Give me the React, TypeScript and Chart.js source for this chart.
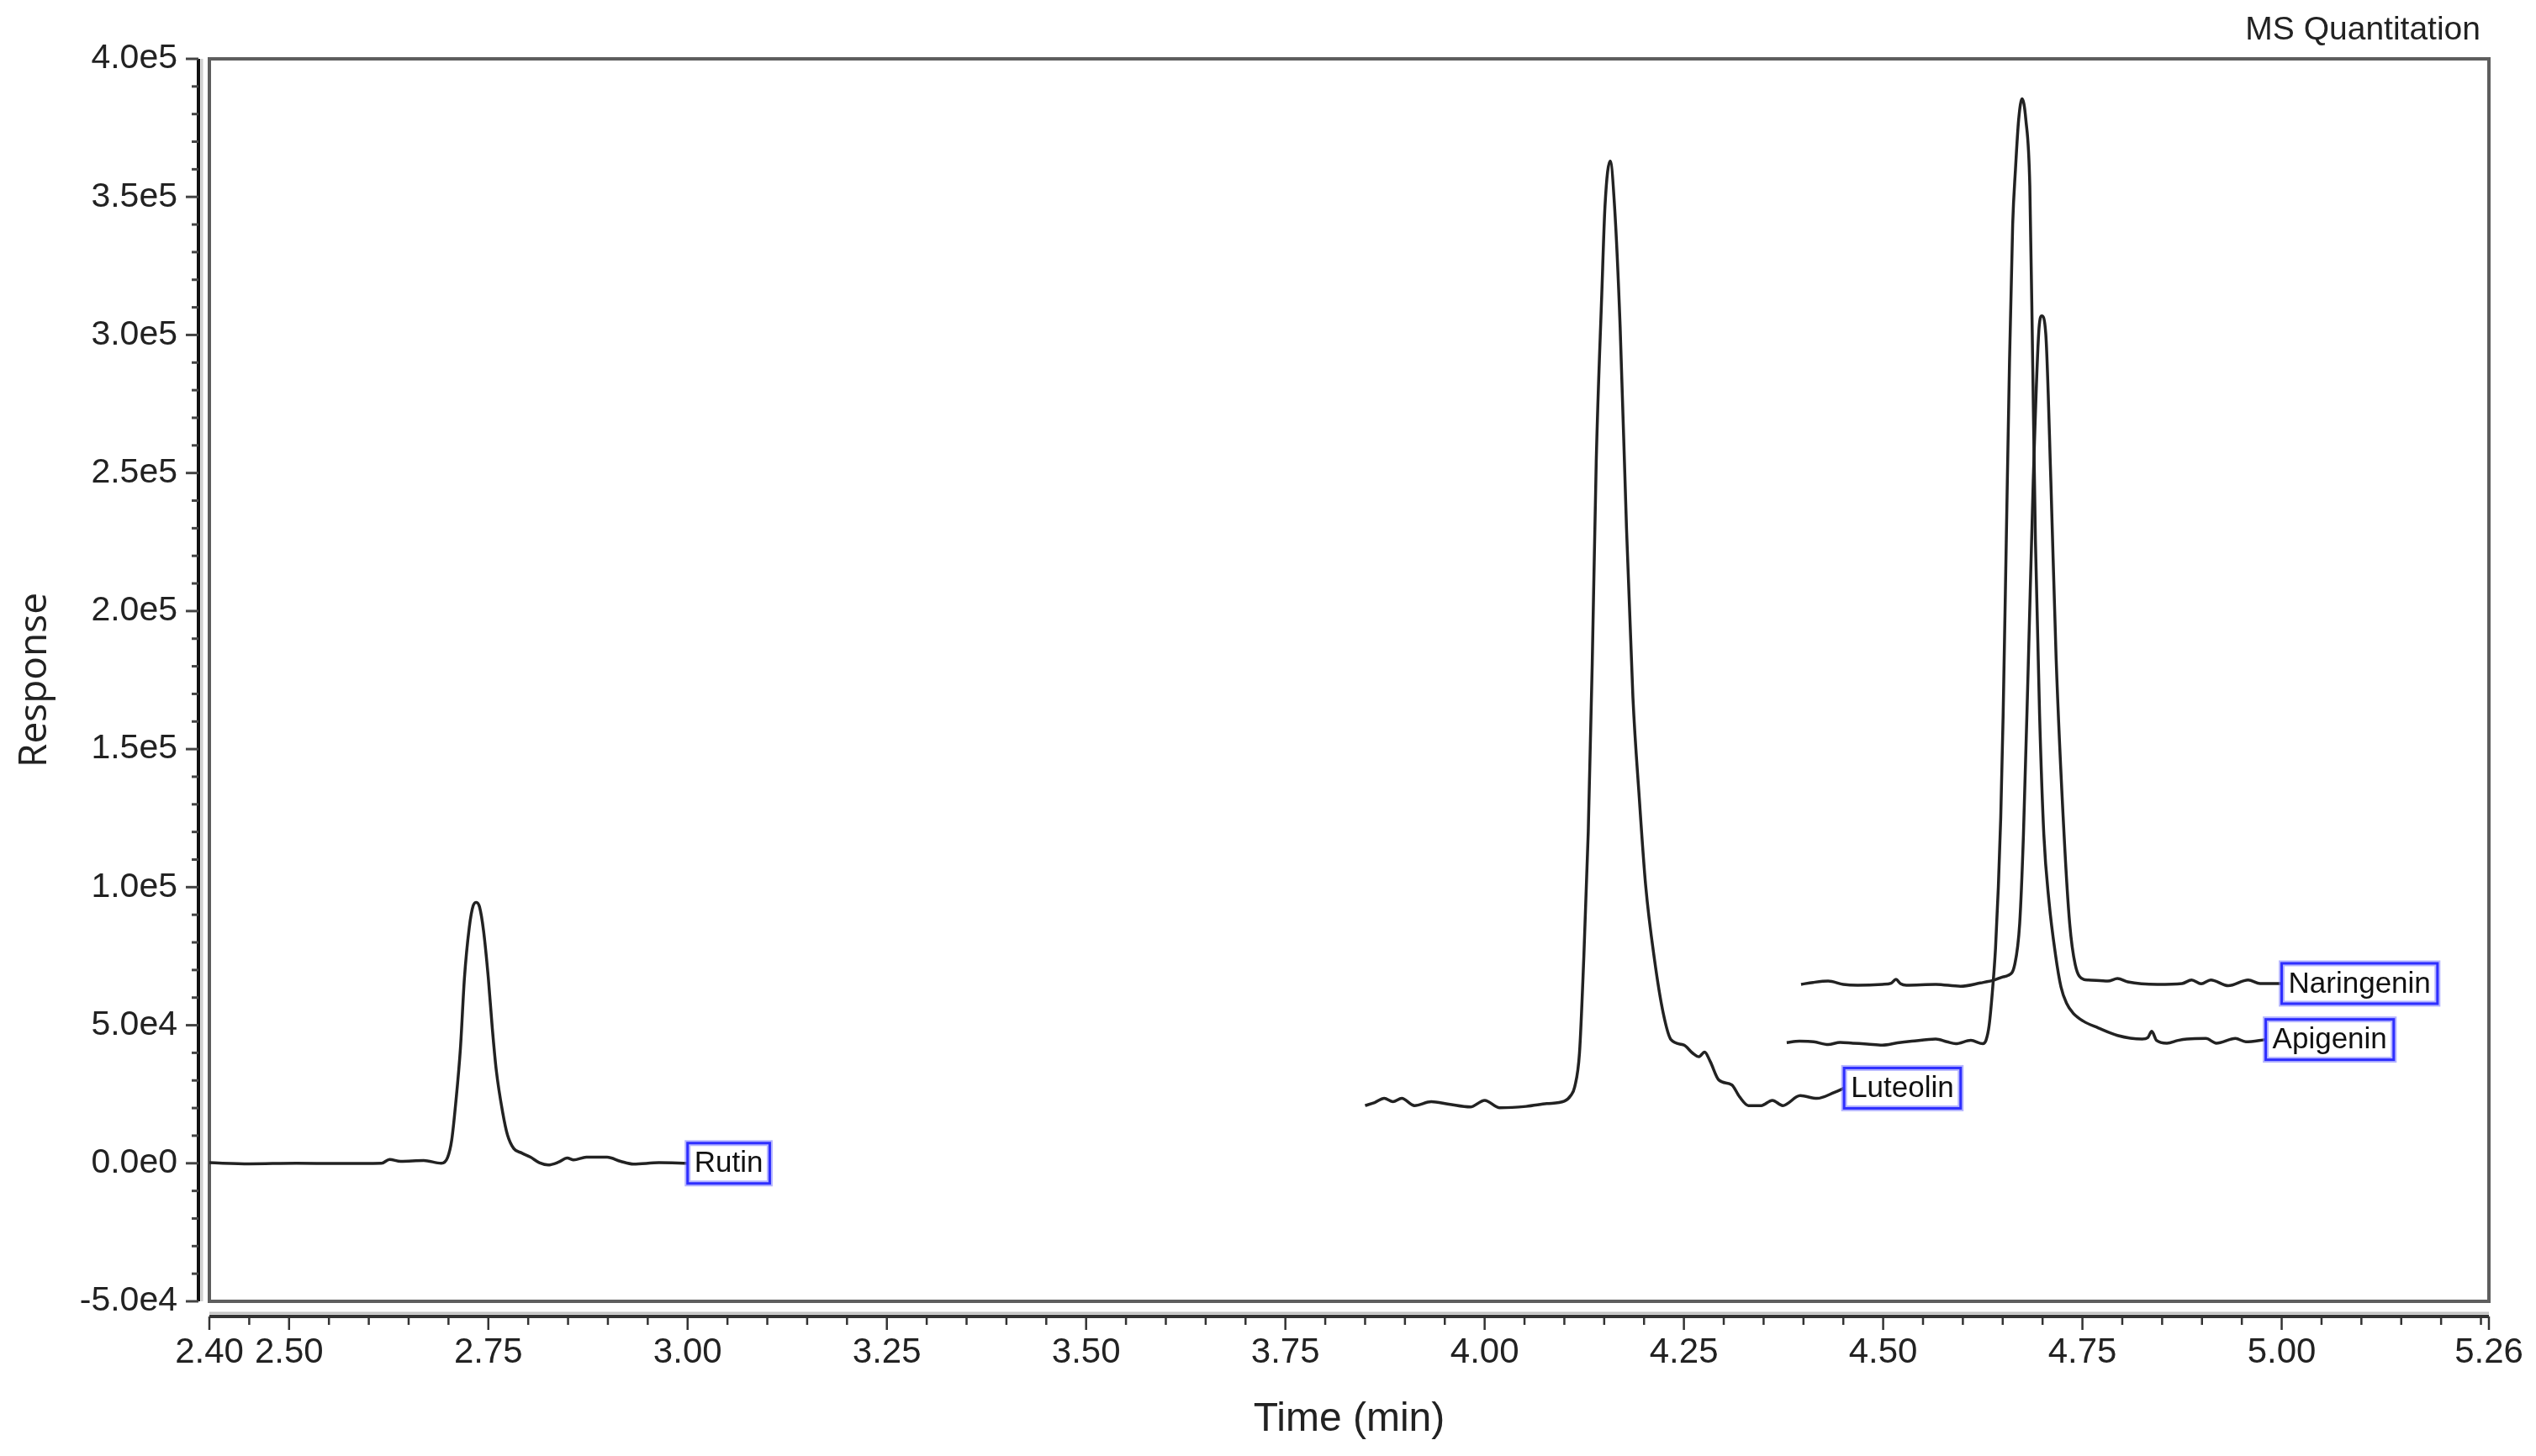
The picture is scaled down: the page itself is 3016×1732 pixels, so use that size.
import React, { useEffect, useRef } from "react";
import { Chart, registerables } from "chart.js";

Chart.register(...registerables);

// ---------- data (time in min, response in counts) ----------
const RUTIN_T = [2.40, 2.45, 2.509, 2.56, 2.616, 2.626, 2.64, 2.669, 2.691, 2.699, 2.704, 2.709, 2.715, 2.72, 2.726, 2.731, 2.735, 2.739, 2.744, 2.75, 2.755, 2.76, 2.768, 2.774, 2.782, 2.792, 2.803, 2.814, 2.825, 2.838, 2.849, 2.857, 2.873, 2.899, 2.916, 2.932, 2.964, 3.00];
const RUTIN_R = [200, -200, 0, -100, 0, 1400, 700, 1000, 0, 2200, 8300, 21500, 41700, 67000, 85200, 93300, 94500, 92800, 84200, 67000, 48800, 33600, 18400, 10300, 5300, 3700, 2200, 200, -600, 400, 1900, 1200, 2200, 2200, 700, -300, 200, 0];

const LUTEOLIN_T = [3.85, 3.862, 3.874, 3.885, 3.896, 3.912, 3.933, 3.955, 3.982, 4.0, 4.019, 4.052, 4.078, 4.1, 4.108, 4.113, 4.119, 4.124, 4.13, 4.135, 4.14, 4.147, 4.151, 4.1575, 4.163, 4.17, 4.178, 4.186, 4.194, 4.202, 4.213, 4.224, 4.234, 4.25, 4.261, 4.269, 4.276, 4.283, 4.294, 4.31, 4.32, 4.331, 4.347, 4.361, 4.374, 4.396, 4.417, 4.439, 4.451];
const LUTEOLIN_R = [20900, 22000, 23500, 22300, 23500, 20900, 22300, 21400, 20400, 22800, 20100, 20600, 21600, 22500, 24500, 27700, 39900, 71500, 120000, 181000, 254000, 315000, 346600, 363000, 346600, 303000, 230000, 169000, 132400, 100700, 74000, 54500, 44700, 42800, 39900, 38600, 40300, 36900, 30100, 28400, 24000, 20900, 20900, 22800, 20900, 24500, 23500, 25700, 27200];

const APIGENIN_T = [4.379, 4.395, 4.413, 4.431, 4.446, 4.462, 4.48, 4.499, 4.518, 4.536, 4.566, 4.58, 4.591, 4.61, 4.625, 4.629, 4.633, 4.637, 4.641, 4.6445, 4.6475, 4.6505, 4.6545, 4.6585, 4.6625, 4.666, 4.67, 4.6743, 4.679, 4.684, 4.6876, 4.691, 4.6963, 4.7016, 4.708, 4.716, 4.723, 4.73, 4.738, 4.751, 4.77, 4.794, 4.825, 4.832, 4.837, 4.843, 4.856, 4.87, 4.881, 4.905, 4.918, 4.942, 4.955, 4.98];
const APIGENIN_R = [43700, 44200, 44000, 43000, 43800, 43500, 43200, 42800, 43600, 44200, 45000, 44000, 43300, 44500, 43300, 44500, 50000, 62000, 78000, 100000, 125000, 162000, 226000, 290000, 340000, 360000, 378000, 385500, 378000, 354000, 290000, 226000, 162000, 119000, 95000, 76000, 64000, 58000, 54500, 51500, 49000, 46300, 45000, 45500, 47800, 44500, 43500, 44500, 45000, 45200, 43500, 45200, 44000, 44800];

const NARINGENIN_T = [4.397, 4.412, 4.431, 4.45, 4.468, 4.499, 4.51, 4.516, 4.522, 4.529, 4.566, 4.597, 4.622, 4.64, 4.65, 4.6565, 4.665, 4.6713, 4.676, 4.6823, 4.6883, 4.6951, 4.699, 4.704, 4.7104, 4.717, 4.727, 4.734, 4.741, 4.7516, 4.757, 4.782, 4.794, 4.807, 4.844, 4.875, 4.887, 4.899, 4.911, 4.933, 4.958, 4.973, 5.0];
const NARINGENIN_R = [64800, 65500, 66000, 64800, 64500, 64800, 65200, 66600, 65000, 64500, 64800, 64100, 65300, 66400, 67500, 68000, 71900, 86900, 118900, 183000, 247100, 300500, 306900, 300500, 247100, 183000, 118900, 86900, 71900, 66600, 66400, 66000, 66900, 65700, 64800, 65100, 66400, 65000, 66400, 64300, 66400, 65100, 65100];

const SERIES_NAMES = ["Rutin", "Luteolin", "Apigenin", "Naringenin"];
const SERIES_T = [RUTIN_T, LUTEOLIN_T, APIGENIN_T, NARINGENIN_T];
const SERIES_R = [RUTIN_R, LUTEOLIN_R, APIGENIN_R, NARINGENIN_R];

const X_TICKS = [2.40, 2.50, 2.75, 3.00, 3.25, 3.50, 3.75, 4.00, 4.25, 4.50, 4.75, 5.00, 5.26];
const X_MIN = 2.40;
const X_MAX = 5.26;
const X_MINOR_STEP = 0.05;
const Y_MIN = -50000;
const Y_MAX = 400000;
const Y_STEP = 50000;
const Y_MINOR_STEP = 10000;

const CHART_TITLE = "MS Quantitation";
const X_TITLE = "Time (min)";
const Y_TITLE = "Response";

const W = 3016;
const H = 1732;
const FONT = '"Liberation Sans", Arial, Helvetica, sans-serif';

function hline(ctx: CanvasRenderingContext2D, x1: number, y1: number, x2: number, y2: number) {
  ctx.beginPath();
  ctx.moveTo(x1, y1);
  ctx.lineTo(x2, y2);
  ctx.stroke();
}

const decorPlugin = {
  id: "decor",
  beforeDatasetsDraw(chart: any) {
    const { ctx, chartArea: a, scales } = chart;
    const xs = scales.x;
    const ys = scales.y;
    ctx.save();
    // plot box
    ctx.strokeStyle = "#5e5e5e";
    ctx.lineWidth = 4;
    ctx.strokeRect(a.left, a.top, a.right - a.left, a.bottom - a.top);

    // detached y axis
    const ax = a.left - 13;
    ctx.strokeStyle = "#cfcfcf";
    ctx.lineWidth = 3;
    hline(ctx, ax + 4, a.top, ax + 4, a.bottom);
    ctx.strokeStyle = "#111";
    ctx.lineWidth = 4;
    hline(ctx, ax, a.top, ax, a.bottom);
    ctx.strokeStyle = "#444";
    ctx.lineWidth = 3;
    for (let v = Y_MIN; v <= Y_MAX + 1; v += Y_MINOR_STEP) {
      const py = ys.getPixelForValue(v);
      const major = Math.abs(v % Y_STEP) < 1;
      hline(ctx, ax - (major ? 15 : 8), py, ax, py);
    }

    // detached x axis
    const ay = a.bottom + 18;
    ctx.strokeStyle = "#c4c4c4";
    ctx.lineWidth = 3;
    hline(ctx, a.left, ay - 4, a.right, ay - 4);
    ctx.strokeStyle = "#333";
    ctx.lineWidth = 4;
    hline(ctx, a.left, ay, a.right, ay);
    ctx.strokeStyle = "#333";
    ctx.lineWidth = 2.5;
    const nMinor = Math.round((X_MAX - X_MIN) / X_MINOR_STEP);
    for (let i = 0; i <= nMinor; i++) {
      const v = X_MIN + i * X_MINOR_STEP;
      if (v > X_MAX + 1e-9) break;
      const isMajor = X_TICKS.some((t) => Math.abs(t - v) < 1e-6);
      if (isMajor) continue;
      const px = xs.getPixelForValue(v);
      hline(ctx, px, ay, px, ay + 10);
    }
    for (const t of X_TICKS) {
      const px = xs.getPixelForValue(t);
      hline(ctx, px, ay, px, ay + 16);
    }
    ctx.restore();
  },
  afterDatasetsDraw(chart: any) {
    const { ctx, chartArea: a } = chart;
    ctx.save();
    // compound labels at the end of each trace
    ctx.font = `35px ${FONT}`;
    ctx.textBaseline = "middle";
    ctx.textAlign = "left";
    chart.data.datasets.forEach((ds: any, i: number) => {
      const meta = chart.getDatasetMeta(i);
      const last = meta.data[meta.data.length - 1];
      if (!last) return;
      const px = last.x;
      const py = last.y;
      const tw = ctx.measureText(ds.label).width;
      const bw = tw + 16;
      const bh = 48;
      const bx = px;
      const by = py - bh / 2;
      ctx.fillStyle = "#ffffff";
      ctx.fillRect(bx, by, bw, bh);
      ctx.strokeStyle = "rgba(120,120,255,0.55)";
      ctx.lineWidth = 7;
      ctx.strokeRect(bx, by, bw, bh);
      ctx.strokeStyle = "#2e2eff";
      ctx.lineWidth = 3;
      ctx.strokeRect(bx, by, bw, bh);
      ctx.fillStyle = "#111";
      ctx.fillText(ds.label, bx + 8, py + 1);
    });
    // top-right caption
    ctx.font = `39px ${FONT}`;
    ctx.textAlign = "right";
    ctx.textBaseline = "middle";
    ctx.fillStyle = "#222";
    ctx.fillText(CHART_TITLE, a.right - 10, 36);
    ctx.restore();
  },
};

export default function App() {
  const canvasRef = useRef<HTMLCanvasElement | null>(null);

  useEffect(() => {
    const canvas = canvasRef.current;
    if (!canvas) return;
    Chart.defaults.font.family = FONT;
    const datasets = SERIES_NAMES.map((name, i) => ({
      label: name,
      data: SERIES_T[i].map((t, j) => ({ x: t, y: SERIES_R[i][j] })),
      borderColor: "#222222",
      borderWidth: 3.5,
      pointRadius: 0,
      fill: false,
      cubicInterpolationMode: "monotone" as const,
      tension: 0.4,
    }));

    const chart = new Chart(canvas, {
      type: "line",
      data: { datasets },
      plugins: [decorPlugin],
      options: {
        animation: false,
        responsive: false,
        maintainAspectRatio: false,
        devicePixelRatio: 1,
        layout: { padding: { top: 70, right: 56, left: 0, bottom: 0 } },
        plugins: {
          legend: { display: false },
          tooltip: { enabled: false },
          title: { display: false },
        },
        scales: {
          x: {
            type: "linear",
            min: X_MIN,
            max: X_MAX,
            border: { display: false },
            grid: { display: false, drawTicks: false },
            afterBuildTicks: (scale: any) => {
              scale.ticks = X_TICKS.map((v) => ({ value: v }));
            },
            afterFit: (scale: any) => {
              scale.height = H - 1548;
              scale.paddingLeft = 0;
              scale.paddingRight = 0;
            },
            ticks: {
              autoSkip: false,
              maxRotation: 0,
              minRotation: 0,
              padding: 36,
              color: "#222",
              font: { size: 42, family: FONT },
              callback: (v: any) => Number(v).toFixed(2),
            },
            title: {
              display: true,
              text: X_TITLE,
              color: "#222",
              font: { size: 48, family: FONT },
              padding: { top: 0, bottom: 14 },
            },
          },
          y: {
            type: "linear",
            min: Y_MIN,
            max: Y_MAX,
            border: { display: false },
            grid: { display: false, drawTicks: false },
            afterFit: (scale: any) => {
              scale.width = 249;
              scale.paddingTop = 0;
              scale.paddingBottom = 0;
            },
            ticks: {
              stepSize: Y_STEP,
              padding: 38,
              color: "#222",
              font: { size: 41, family: FONT },
              callback: (v: any) => Number(v).toExponential(1).replace("e+", "e"),
            },
            title: {
              display: true,
              text: Y_TITLE,
              color: "#222",
              font: { size: 46, family: '"Open Sans", "Liberation Sans", Arial, sans-serif' },
              padding: { top: 14, bottom: 0 },
            },
          },
        },
      },
    } as any);

    return () => {
      chart.destroy();
    };
  }, []);

  return (
    <div style={{ position: "absolute", left: 0, top: 0, width: W, height: H, background: "#fff" }}>
      <canvas ref={canvasRef} width={W} height={H} style={{ display: "block", width: W, height: H }} />
    </div>
  );
}
